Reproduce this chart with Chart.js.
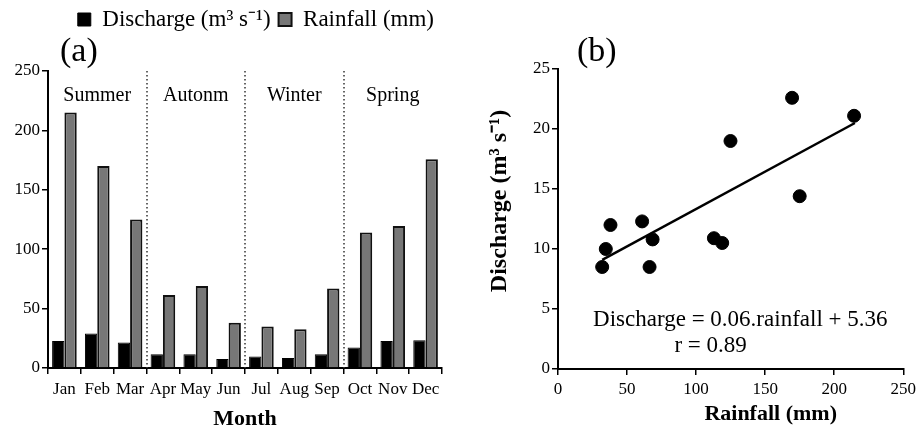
<!DOCTYPE html>
<html>
<head>
<meta charset="utf-8">
<script src="https://cdn.jsdelivr.net/npm/chart.js@4.4.1/dist/chart.umd.min.js"></script>
<style>
  html, body { margin: 0; padding: 0; background: #fff; }
  #wrap { position: relative; width: 920px; height: 429px; }
  #barBox { position: absolute; left: 0; top: 0; width: 510px; height: 429px; }
  #scatterBox { position: absolute; left: 460px; top: 0; width: 460px; height: 429px; }
</style>
</head>
<body>
<div id="wrap">
  <div id="barBox"><canvas id="barChart"></canvas></div>
  <div id="scatterBox"><canvas id="scatterChart"></canvas></div>
</div>
<script>
// (a) monthly values
const months = ['Jan', 'Feb', 'Mar', 'Apr', 'May', 'Jun', 'Jul', 'Aug', 'Sep', 'Oct', 'Nov', 'Dec'];
const discharge = [22.8, 29, 21.4, 11.5, 11.5, 7.6, 9.6, 8.4, 11.5, 17.2, 22.8, 23.3];
const rainfall = [215, 170, 125, 61.5, 69, 38, 35, 32.6, 67, 114, 119.5, 175.7];
const seasons = ['Summer', 'Autonm', 'Winter', 'Spring'];

// (b) rainfall vs discharge
const scatterRain = [32, 34.6, 38, 60.9, 68.5, 66.3, 112.9, 118.9, 124.9, 169.5, 175, 214.4];
const scatterDischarge = [8.5, 10, 12, 12.3, 10.8, 8.5, 10.9, 10.5, 19, 22.6, 14.4, 21.1];
const fitX = [32, 215];
const fitY = [9.1, 20.5];

const SERIF = '"Liberation Serif", "Times New Roman", serif';
Chart.defaults.font.family = SERIF;
Chart.defaults.color = '#000';

// extra room under the legend so "(a)" fits above the plot
const legendGap = {
  id: 'legendGap',
  beforeInit(chart) {
    const fit = chart.legend.fit;
    chart.legend.fit = function () {
      fit.bind(chart.legend)();
      this.height += 30;
    };
  }
};

const barNotes = {
  id: 'barNotes',
  afterDraw(chart) {
    const { ctx, chartArea, scales: { x } } = chart;
    ctx.save();
    ctx.fillStyle = '#000';
    ctx.font = '34px ' + SERIF;
    ctx.textBaseline = 'middle';
    ctx.fillText('(a)', chartArea.left + 12, chartArea.top - 19);

    ctx.font = '20px ' + SERIF;
    ctx.textAlign = 'center';
    ctx.textBaseline = 'alphabetic';
    seasons.forEach((s, i) => {
      ctx.fillText(s, x.getPixelForValue(i * 3 + 1), chartArea.top + 30);
    });

    // dotted season dividers
    ctx.setLineDash([1.5, 2.5]);
    ctx.lineWidth = 1.5;
    ctx.strokeStyle = '#333';
    [3, 6, 9].forEach(i => {
      const px = Math.round((x.getPixelForValue(i - 1) + x.getPixelForValue(i)) / 2);
      ctx.beginPath();
      ctx.moveTo(px, chartArea.top);
      ctx.lineTo(px, chartArea.bottom);
      ctx.stroke();
    });
    ctx.restore();
  }
};

new Chart(document.getElementById('barChart'), {
  type: 'bar',
  data: {
    labels: months,
    datasets: [
      {
        label: 'Discharge (m³ s⁻¹)',
        data: discharge,
        backgroundColor: '#000',
        borderColor: '#000',
        borderWidth: 1
      },
      {
        label: 'Rainfall (mm)',
        data: rainfall,
        backgroundColor: '#777',
        borderColor: '#111',
        borderWidth: 2
      }
    ]
  },
  options: {
    responsive: true,
    maintainAspectRatio: false,
    animation: false,
    layout: { padding: { left: 0, right: 68, top: 0, bottom: 0 } },
    datasets: { bar: { categoryPercentage: 0.75, barPercentage: 1 } },
    plugins: {
      legend: {
        align: 'end',
        labels: {
          font: { size: 23 },
          color: '#000',
          boxWidth: 13,
          boxHeight: 13,
          padding: 8
        }
      },
      tooltip: { enabled: false }
    },
    scales: {
      x: {
        afterFit(scale) { scale.height = 61; },
        grid: { offset: true, drawOnChartArea: false, color: '#000', tickLength: 6, lineWidth: 1.5 },
        border: { color: '#000', width: 2 },
        ticks: { color: '#000', font: { size: 17 }, padding: 5, maxRotation: 0, autoSkip: false },
        title: { display: true, text: 'Month', color: '#000', font: { size: 22, weight: 'bold' }, padding: { top: 6, bottom: -4 } }
      },
      y: {
        min: 0,
        max: 250,
        afterFit(scale) { scale.width = 48; },
        grid: { drawOnChartArea: false, color: '#000', tickLength: 6, lineWidth: 1.5 },
        border: { color: '#000', width: 2 },
        ticks: { stepSize: 50, color: '#000', font: { size: 17 }, padding: 2 }
      }
    }
  },
  plugins: [legendGap, barNotes]
});

const scatterNotes = {
  id: 'scatterNotes',
  afterDraw(chart) {
    const { ctx, chartArea, scales: { x, y } } = chart;
    ctx.save();
    ctx.fillStyle = '#000';
    ctx.font = '34px ' + SERIF;
    ctx.textBaseline = 'middle';
    ctx.fillText('(b)', chartArea.left + 19, chartArea.top - 17);

    ctx.font = '23px ' + SERIF;
    ctx.textAlign = 'center';
    ctx.fillText('Discharge = 0.06.rainfall + 5.36', x.getPixelForValue(132), y.getPixelForValue(4.1));
    ctx.fillText('r = 0.89', x.getPixelForValue(110.5), y.getPixelForValue(1.9));

    // axis titles, placed off-centre as in the original
    ctx.font = 'bold 22px ' + SERIF;
    ctx.fillText('Rainfall (mm)', x.getPixelForValue(154), chartArea.bottom + 45);
    ctx.font = 'bold 24px ' + SERIF;
    ctx.translate(40, y.getPixelForValue(14));
    ctx.rotate(-Math.PI / 2);
    ctx.fillText('Discharge (m³ s⁻¹)', 0, 0);
    ctx.restore();
  }
};

new Chart(document.getElementById('scatterChart'), {
  type: 'scatter',
  data: {
    datasets: [
      {
        label: 'Monthly',
        data: scatterRain.map((r, i) => ({ x: r, y: scatterDischarge[i] })),
        backgroundColor: '#000',
        borderColor: '#000',
        pointRadius: 6.5
      },
      {
        label: 'Fit',
        data: fitX.map((r, i) => ({ x: r, y: fitY[i] })),
        showLine: true,
        borderColor: '#000',
        borderWidth: 2.5,
        pointRadius: 0
      }
    ]
  },
  options: {
    responsive: true,
    maintainAspectRatio: false,
    animation: false,
    layout: { padding: { left: 0, right: 13, top: 69, bottom: 0 } },
    plugins: {
      legend: { display: false },
      tooltip: { enabled: false }
    },
    scales: {
      x: {
        type: 'linear',
        min: 0,
        max: 250,
        afterFit(scale) { scale.height = 60; },
        grid: { drawOnChartArea: false, color: '#000', tickLength: 6, lineWidth: 1.5 },
        border: { color: '#000', width: 2 },
        ticks: { stepSize: 50, color: '#000', font: { size: 17 }, padding: 4 }
      },
      y: {
        min: 0,
        max: 25,
        afterFit(scale) { scale.width = 98; },
        grid: { drawOnChartArea: false, color: '#000', tickLength: 6, lineWidth: 1.5 },
        border: { color: '#000', width: 2 },
        ticks: { stepSize: 5, color: '#000', font: { size: 17 }, padding: 2 }
      }
    }
  },
  plugins: [scatterNotes]
});
</script>
</body>
</html>
